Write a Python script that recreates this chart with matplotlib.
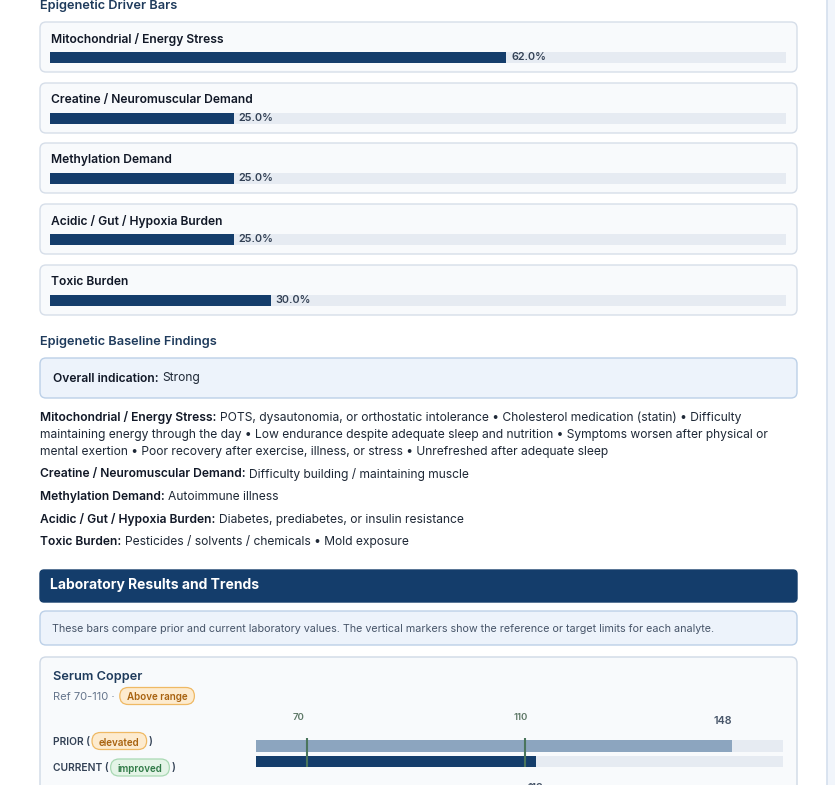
import matplotlib
matplotlib.use("Agg")
import matplotlib.pyplot as plt
from matplotlib.patches import FancyBboxPatch
from matplotlib.font_manager import FontProperties
from matplotlib.transforms import blended_transform_factory

# ---- data ----
driver_names = ["Mitochondrial / Energy Stress", "Creatine / Neuromuscular Demand",
                "Methylation Demand", "Acidic / Gut / Hypoxia Burden", "Toxic Burden"]
driver_pct = [62.0, 25.0, 25.0, 25.0, 30.0]

overall_indication = "Strong"
finding_items = [
    ["POTS, dysautonomia, or orthostatic intolerance", "Cholesterol medication (statin)",
     "Difficulty maintaining energy through the day",
     "Low endurance despite adequate sleep and nutrition",
     "Symptoms worsen after physical or mental exertion",
     "Poor recovery after exercise, illness, or stress", "Unrefreshed after adequate sleep"],
    ["Difficulty building / maintaining muscle"],
    ["Autoimmune illness"],
    ["Diabetes, prediabetes, or insulin resistance"],
    ["Pesticides / solvents / chemicals", "Mold exposure"],
]

lab_name = "Serum Copper"
lab_ref = (70, 110)
lab_status = "Above range"
lab_rows = ["PRIOR", "CURRENT"]
lab_values = [148, 112]
lab_flags = ["elevated", "improved"]
lab_axis = (60.7, 157.4)

# ---- style ----
NAVY = "#143d6b"
TRACK = "#e6ebf2"
CARD_BG = "#f8fafc"
CARD_EDGE = "#d6dee9"
BLUE_BG = "#edf3fb"
BLUE_EDGE = "#bcd0e8"
HEAD = "#1f3b5c"
TEXT = "#1f2937"
FONT = "Inter"
badge_style = {
    "orange": ("#fdebcf", "#efb964", "#a8620f"),
    "green": ("#e4f4e7", "#a9d9b3", "#2f7a46"),
}
flag_color = {"elevated": "orange", "improved": "green", "Above range": "orange"}

W, H = 835, 785
fig = plt.figure(figsize=(W / 100, H / 100), dpi=100)
fig.patch.set_facecolor("white")
page = fig.add_axes([0, 0, 1, 1])
page.set_xlim(0, W)
page.set_ylim(H, 0)
page.axis("off")
renderer = fig.canvas.get_renderer()


def fp(size, weight="normal"):
    return FontProperties(family=FONT, size=size, weight=weight)


def tw(s, size, weight="normal"):
    w, _, _ = renderer.get_text_width_height_descent(s, fp(size, weight), ismath=False)
    return w


def box(x0, y0, x1, y1, fc, ec, r=6, lw=1.0, z=1):
    page.add_patch(FancyBboxPatch((x0 + r, y0 + r), x1 - x0 - 2 * r, y1 - y0 - 2 * r,
                                  boxstyle=f"round,pad={r}", fc=fc, ec=ec, lw=lw, zorder=z))


def txt(x, y, s, size, weight="normal", color=TEXT, ha="left", **kw):
    # small shift so the visual centre of the glyphs sits on y
    return page.text(x, y + 1.5, s, fontsize=size, fontweight=weight, color=color, ha=ha,
                     va="center", family=FONT, **kw)


def badge(x, y, label, size=7.1):
    fc, ec, tc = badge_style[flag_color[label]]
    w = tw(label, size, "semibold") + 14
    box(x, y - 8.5, x + w, y + 8.5, fc, ec, r=8.5, lw=0.9, z=3)
    txt(x + w / 2, y, label, size, "semibold", tc, ha="center", zorder=4)
    return x + w


# right side scroll strip
page.axvspan(827, W, color="#f1f5fb", zorder=0)
page.axvline(826.5, color="#d5e0ee", lw=1.2, zorder=0)

# ---- epigenetic driver bars ----
txt(40, 4.5, "Epigenetic Driver Bars", 9.2, "semibold", HEAD)
card_top = [22, 83, 143, 204, 265]
for name, pct, top in zip(driver_names, driver_pct, card_top):
    box(40, top, 797, top + 50, CARD_BG, CARD_EDGE)
    txt(51, top + 15.5, name, 8.7, "semibold", "#111827")
    bx = fig.add_axes([50 / W, 1 - (top + 40.7) / H, 736 / W, 10.5 / H])
    bx.set_xlim(0, 100)
    bx.set_ylim(-0.5, 0.5)
    bx.axis("off")
    bx.barh(0, 100, height=1, color=TRACK)
    bx.barh(0, pct, height=1, color=NAVY)
    bx.annotate(f"{pct:.1f}%", (pct, 0), xytext=(3.5, 0), textcoords="offset points",
                va="center", ha="left", fontsize=7.8, fontweight="semibold",
                color="#334155", family=FONT)

# ---- baseline findings ----
txt(40, 340, "Epigenetic Baseline Findings", 9.2, "semibold", HEAD)
box(40, 358, 797, 398, BLUE_BG, BLUE_EDGE)
fsize = 8.7
space = tw("a a", fsize) - tw("aa", fsize)
lbl = "Overall indication:"
txt(53, 377, lbl, fsize, "semibold", "#111827")
txt(53 + tw(lbl, fsize, "semibold") + space, 377, overall_indication, fsize)

y = 416.5
for name, items in zip(driver_names, finding_items):
    head = name + ":"
    txt(40, y, head, fsize, "semibold", "#111827")
    x = 40 + tw(head, fsize, "semibold") + space
    words = " \u2022 ".join(items).split(" ")
    line = ""
    for wd in words:
        cand = wd if not line else line + " " + wd
        if x + tw(cand, fsize) > 792:
            txt(x, y, line, fsize)
            y += 17
            x = 40
            line = wd
        else:
            line = cand
    txt(x, y, line, fsize)
    y += 22.5

# ---- laboratory section ----
box(40, 570, 797, 602, NAVY, NAVY, r=4)
txt(50, 584, "Laboratory Results and Trends", 10.0, "bold", "white")
box(40, 611, 797, 645, BLUE_BG, BLUE_EDGE)
txt(52, 627.5, "These bars compare prior and current laboratory values. The vertical markers "
    "show the reference or target limits for each analyte.", 7.75, color="#475569")

box(40, 657, 797, 810, CARD_BG, "#cfd9e6")
txt(53, 675.5, lab_name, 9.2, "semibold", HEAD)
ref_s = f"Ref {lab_ref[0]}-{lab_ref[1]} \u00b7 "
txt(53, 695, ref_s, 8, color="#64748b")
badge(53 + tw(ref_s, 8) + space * 0.6, 696, lab_status)

row_y = [741, 767.5]
for row, flag, ry in zip(lab_rows, lab_flags, row_y):
    s = row + " ("
    txt(53, ry - 0.5, s, 7.4, "semibold", "#334155")
    xe = badge(53 + tw(s, 7.4, "semibold") + 2, ry, flag)
    txt(xe + 2, ry - 0.5, ")", 7.4, "semibold", "#334155")

lx = fig.add_axes([256 / W, 1 - 770.8 / H, 527 / W, 34.1 / H])
lx.set_xlim(*lab_axis)
lx.set_ylim(1.6, -0.6)
lx.axis("off")
lab_colors = ["#8ca5bf", NAVY]
for i, (v, c) in enumerate(zip(lab_values, lab_colors)):
    lx.barh(i, lab_axis[1] - lab_axis[0], left=lab_axis[0], height=0.74, color=TRACK)
    lx.barh(i, v - lab_axis[0], left=lab_axis[0], height=0.74 if i else 0.78, color=c)

tr = blended_transform_factory(lx.transData, page.transData)
lx.vlines(lab_ref, 738, 767, transform=tr, color="#4a755c", lw=1.5, zorder=5)
for v, dx in zip(lab_ref, [-5.5, -3]):
    lx.annotate(str(v), (v, 717), xycoords=tr, xytext=(dx, 0), textcoords="offset points",
                ha="center", va="center", fontsize=6.9, fontweight="semibold",
                color="#5d7766", family=FONT, annotation_clip=False)
lx.text(lab_values[0], 720.5, str(lab_values[0]), transform=tr, ha="right", va="center",
        fontsize=7.8, fontweight="semibold", color="#475569", family=FONT, clip_on=False)
lx.text(lab_values[1], 788, str(lab_values[1]), transform=tr, ha="center", va="center",
        fontsize=7.8, fontweight="semibold", color="#475569", family=FONT, clip_on=False)

fig.savefig("out.png", dpi=100, facecolor="white")
